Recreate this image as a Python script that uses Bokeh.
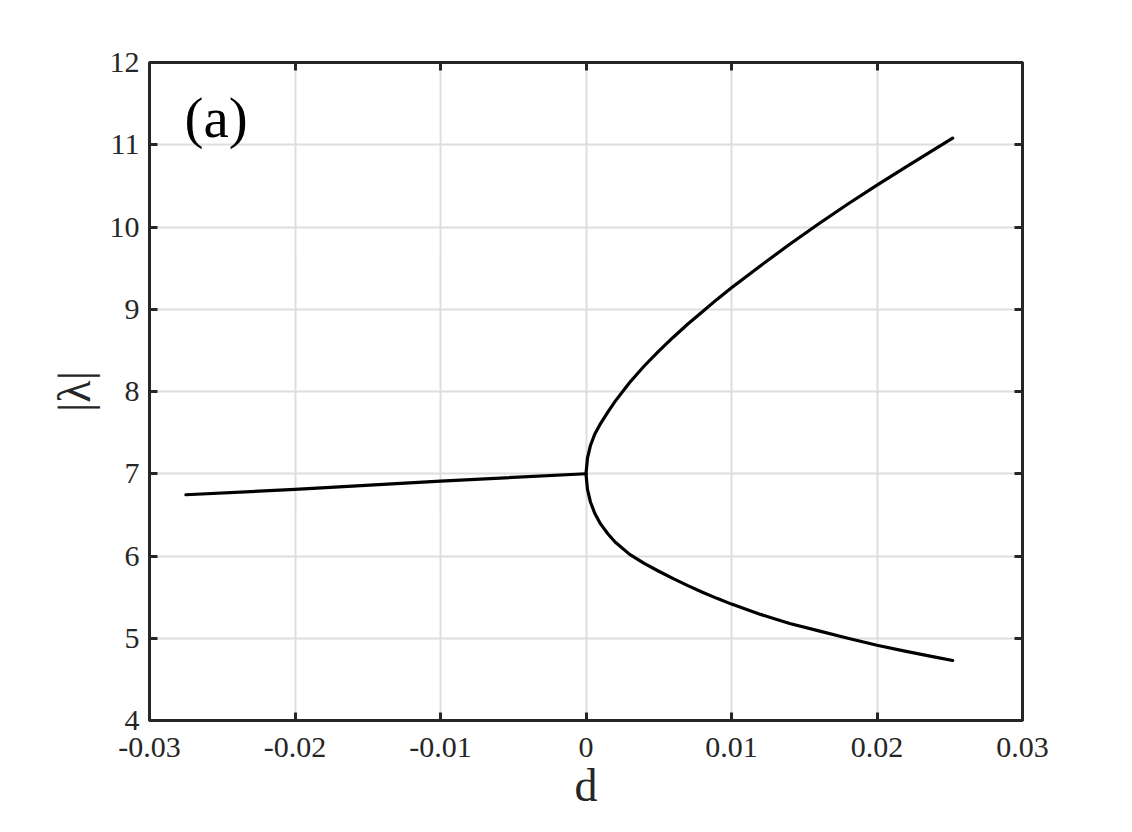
from bokeh.plotting import figure
from bokeh.models import Range1d, LinearAxis, FixedTicker, Label, CustomJSTickFormatter
from bokeh.embed import file_html
from bokeh.resources import INLINE

# ---- data ----
left_d = [-0.0275, -0.02, -0.01, 0.0]
left_lam = [6.745, 6.81, 6.91, 7.0]

upper_d = [0.0, 0.0001, 0.0003, 0.0006, 0.001, 0.0015, 0.002, 0.003, 0.004, 0.005,
           0.006, 0.007, 0.008, 0.009, 0.010, 0.012, 0.014, 0.016, 0.018, 0.020,
           0.022, 0.024, 0.0252]
upper_lam = [7.0, 7.19, 7.34, 7.48, 7.61, 7.75, 7.88, 8.11, 8.31, 8.49,
             8.66, 8.82, 8.97, 9.12, 9.26, 9.53, 9.79, 10.04, 10.28, 10.51,
             10.73, 10.95, 11.08]

lower_d = [0.0, 0.0001, 0.0003, 0.0006, 0.001, 0.0015, 0.002, 0.003, 0.004, 0.005,
           0.006, 0.007, 0.008, 0.009, 0.010, 0.012, 0.014, 0.016, 0.018, 0.020,
           0.022, 0.024, 0.0252]
lower_lam = [7.0, 6.81, 6.66, 6.52, 6.39, 6.27, 6.17, 6.02, 5.91, 5.815,
             5.725, 5.64, 5.56, 5.485, 5.415, 5.29, 5.18, 5.09, 5.00, 4.915,
             4.84, 4.77, 4.73]

x_ticks = [-0.03, -0.02, -0.01, 0.0, 0.01, 0.02, 0.03]
x_tick_labels = ["-0.03", "-0.02", "-0.01", "0", "0.01", "0.02", "0.03"]
y_ticks = [4, 5, 6, 7, 8, 9, 10, 11, 12]
y_tick_labels = ["4", "5", "6", "7", "8", "9", "10", "11", "12"]

FONT = "Liberation Serif"
AX = "#262626"

p = figure(frame_width=873, frame_height=658,
           min_border_left=149, min_border_right=102,
           min_border_top=62, min_border_bottom=104,
           x_range=Range1d(-0.03, 0.03), y_range=Range1d(4, 12),
           output_backend="svg", toolbar_location=None,
           background_fill_color="white", border_fill_color="white")

p.outline_line_color = AX
p.outline_line_width = 3

# grid
for g in (p.xgrid, p.ygrid):
    g.grid_line_color = "#dedede"
    g.grid_line_width = 2
p.xgrid.ticker = FixedTicker(ticks=x_ticks)
p.ygrid.ticker = FixedTicker(ticks=y_ticks)

def style_axis(ax, ticks, labels, show_labels):
    ax.ticker = FixedTicker(ticks=ticks)
    ax.axis_line_color = AX
    ax.axis_line_width = 3
    ax.major_tick_line_color = AX
    ax.major_tick_line_width = 3
    ax.major_tick_in = 8
    ax.major_tick_out = 0
    ax.minor_tick_line_color = None
    if show_labels:
        ax.major_label_overrides = {t: l for t, l in zip(ticks, labels)}
        ax.major_label_text_font = FONT
        ax.major_label_text_font_size = "30px"
        ax.major_label_text_color = AX
    else:
        ax.formatter = CustomJSTickFormatter(code="return ''")
        ax.major_label_text_font_size = "1px"

xa = p.xaxis[0]
ya = p.yaxis[0]
style_axis(xa, x_ticks, x_tick_labels, True)
style_axis(ya, y_ticks, y_tick_labels, True)
xa.major_label_standoff = 17
ya.major_label_standoff = 10

xa.axis_label = "d"
ya.axis_label = "|λ|"
for a in (xa, ya):
    a.axis_label_text_font = FONT
    a.axis_label_text_font_size = "46px"
    a.axis_label_text_font_style = "normal"
    a.axis_label_text_color = AX
xa.axis_label_standoff = 0
ya.axis_label_standoff = 7

top_ax = LinearAxis()
right_ax = LinearAxis()
style_axis(top_ax, x_ticks, x_tick_labels, False)
style_axis(right_ax, y_ticks, y_tick_labels, False)
p.add_layout(top_ax, "above")
p.add_layout(right_ax, "right")

# curves
for xs, ys in ((left_d, left_lam), (upper_d, upper_lam), (lower_d, lower_lam)):
    p.line(xs, ys, line_color="black", line_width=3.2, line_join="round", line_cap="round")

p.add_layout(Label(x=-0.0276, y=11.33, text="(a)", text_font=FONT,
                   text_font_size="57px", text_color="black",
                   text_baseline="middle", text_align="left"))

open("out.html", "w").write(file_html(p, INLINE))
